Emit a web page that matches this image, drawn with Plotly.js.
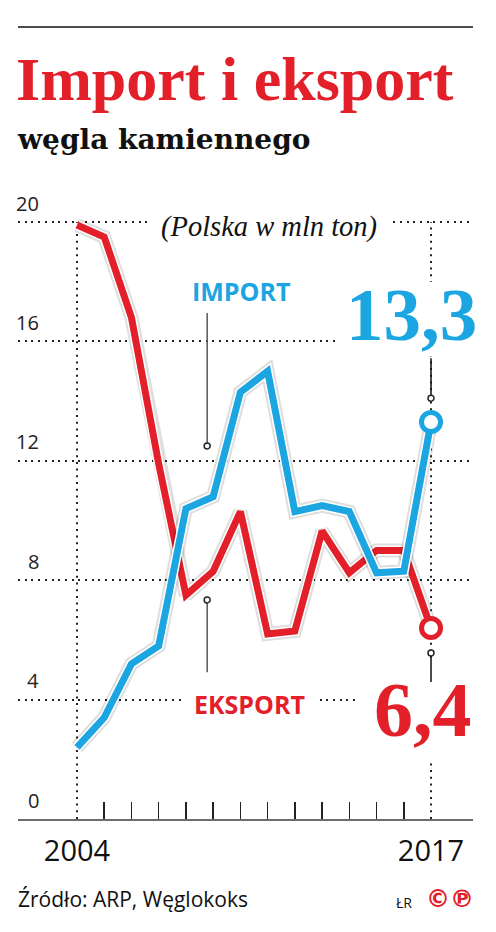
<!DOCTYPE html>
<html>
<head>
<meta charset="utf-8">
<script src="https://cdn.plot.ly/plotly-3.0.1.min.js"></script>
<style>
  html, body { margin: 0; padding: 0; background: #fff; }
  #chart { width: 496px; height: 932px; }
</style>
</head>
<body>
<div id="chart"></div>
<script>
// Import i eksport węgla kamiennego (Polska, mln ton)
var years = [2004, 2005, 2006, 2007, 2008, 2009, 2010, 2011, 2012, 2013, 2014, 2015, 2016, 2017];
var importValues = [2.4, 3.4, 5.2, 5.8, 10.4, 10.8, 14.3, 15.0, 10.3, 10.5, 10.3, 8.25, 8.3, 13.3];
var exportValues = [19.9, 19.5, 16.8, 11.9, 7.5, 8.3, 10.3, 6.2, 6.3, 9.65, 8.25, 9.0, 9.0, 6.4];
var yTicks = [0, 4, 8, 12, 16, 20];
var xLabels = ['2004', '2017'];

var RED = '#e3202a';
var BLUE = '#1ba5e1';
var SERIF = 'Liberation Serif';
var SANS = 'Open Sans';

var last = years.length - 1;
var firstYear = years[0];
var lastYear = years[last];

// linia z białą obwódką i cieniem
function seriesTraces(values, color) {
  return [
    { x: years, y: values, mode: 'lines', hoverinfo: 'skip',
      line: { color: 'rgba(0,0,0,0.13)', width: 14 } },
    { x: years, y: values, mode: 'lines', hoverinfo: 'skip',
      line: { color: '#ffffff', width: 10 } },
    { x: years, y: values, mode: 'lines',
      line: { color: color, width: 7 } },
    { x: [years[last]], y: [values[last]], mode: 'markers',
      marker: { size: 19, color: '#ffffff', line: { color: color, width: 5 } } }
  ];
}

var data = seriesTraces(exportValues, RED).concat(seriesTraces(importValues, BLUE));

function dotCircle(x, y) {
  return { type: 'circle', xref: 'x', yref: 'y', xsizemode: 'pixel', ysizemode: 'pixel',
    xanchor: x, yanchor: y, x0: -3, x1: 3, y0: -3, y1: 3, layer: 'between',
    fillcolor: '#fff', line: { color: '#222', width: 1.5 } };
}

// białe tło pod napisami, przerywa kropkowane linie
function blank(x0, x1, y0, y1) {
  return { type: 'rect', xref: 'x', yref: 'y', x0: x0, x1: x1, y0: y0, y1: y1,
    layer: 'between', fillcolor: '#fff', line: { width: 0 } };
}

var dotted = { color: '#222', width: 2, dash: '2px,4.7px' };

var shapes = [
  // linia nad tytułem
  { type: 'line', xref: 'paper', yref: 'paper', x0: 0, x1: 1, y0: 1.2394, y1: 1.2394,
    line: { color: '#111', width: 1.5 } },
  // pionowe kropkowane linie
  { type: 'line', xref: 'x', yref: 'y', x0: firstYear, x1: firstYear, y0: 0, y1: 20, layer: 'between', line: dotted },
  { type: 'line', xref: 'x', yref: 'y', x0: lastYear, x1: lastYear, y0: 0, y1: 20, layer: 'between', line: dotted },
  blank(2006.68, 2015.57, 19.2, 20.4),
  blank(2013.58, 2018.6, 15.5, 18.0),
  blank(2007.86, 2012.81, 3.45, 4.3),
  blank(2014.28, 2018.6, 1.9, 5.4),
  // odnośniki
  { type: 'line', xref: 'x', yref: 'y', x0: 2008.78, x1: 2008.78, y0: 16.95, y1: 12.6, layer: 'between', line: { color: '#555', width: 1.5 } },
  dotCircle(2008.78, 12.5),
  { type: 'line', xref: 'x', yref: 'y', x0: 2008.78, x1: 2008.78, y0: 7.25, y1: 4.92, layer: 'between', line: { color: '#555', width: 1.5 } },
  dotCircle(2008.78, 7.34),
  { type: 'line', xref: 'x', yref: 'y', x0: lastYear, x1: lastYear, y0: 15.44, y1: 14.2, layer: 'between', line: { color: '#111', width: 1.5 } },
  dotCircle(lastYear, 14.1),
  { type: 'line', xref: 'x', yref: 'y', x0: lastYear, x1: lastYear, y0: 5.5, y1: 4.59, layer: 'between', line: { color: '#111', width: 1.5 } },
  dotCircle(lastYear, 5.56)
];

var annotations = yTicks.map(function (v) {
  return { xref: 'paper', yref: 'y', x: 0.0505, y: v, xanchor: 'right', yanchor: 'middle',
    yshift: 19, text: String(v), showarrow: false,
    font: { family: SANS, size: 20, color: '#222' } };
});

annotations.push(
  { xref: 'paper', yref: 'paper', x: 0, y: 1.0626, xanchor: 'left', yanchor: 'middle',
    xshift: -3, text: 'węgla kamiennego', showarrow: false,
    font: { family: 'DejaVu Serif', size: 28, color: '#111', weight: 'bold' } },
  { xref: 'x', yref: 'y', x: 2011.05, y: 19.85, text: '(Polska w mln ton)', showarrow: false,
    font: { family: SERIF, size: 28.5, color: '#111', style: 'italic' } },
  { xref: 'x', yref: 'y', x: 2010.02, y: 17.69, text: 'IMPORT', showarrow: false,
    font: { family: SANS, size: 25, color: BLUE, weight: 'bold' } },
  { xref: 'x', yref: 'y', x: 2010.32, y: 3.85, text: 'EKSPORT', showarrow: false,
    font: { family: SANS, size: 25, color: RED, weight: 'bold' } },
  { xref: 'x', yref: 'y', x: 2016.27, y: 16.92, text: '13,3', showarrow: false,
    font: { family: SERIF, size: 75, color: BLUE, weight: 'bold' } },
  { xref: 'x', yref: 'y', x: 2016.71, y: 3.67, text: '6,4', showarrow: false,
    font: { family: SERIF, size: 78, color: RED, weight: 'bold' } },
  { xref: 'paper', yref: 'paper', x: 0, y: -0.1252, xanchor: 'left', yanchor: 'middle',
    xshift: -2, text: 'Źródło: ARP, Węglokoks', showarrow: false,
    font: { family: SANS, size: 21, color: '#111' } },
  { xref: 'paper', yref: 'paper', x: 0.848, y: -0.130, xanchor: 'center', yanchor: 'middle',
    text: 'ŁR', showarrow: false,
    font: { family: SANS, size: 14, color: '#111' } },
  { xref: 'paper', yref: 'paper', x: 0.95, y: -0.125, xanchor: 'center', yanchor: 'middle',
    text: '©℗', showarrow: false,
    font: { family: 'DejaVu Sans', size: 24, color: RED, weight: 'bold' } }
);

var layout = {
  width: 496,
  height: 932,
  margin: { l: 18, r: 23, t: 180, b: 113 },
  paper_bgcolor: '#fff',
  plot_bgcolor: '#fff',
  showlegend: false,
  title: {
    text: 'Import i eksport',
    xref: 'container', yref: 'container',
    x: 16 / 496, xanchor: 'left',
    y: 1 - 57 / 932, yanchor: 'top',
    font: { family: SERIF, size: 62, color: RED, weight: 'bold' }
  },
  xaxis: {
    range: [2001.833, 2018.542],
    showline: true, linecolor: '#6d6d6d', linewidth: 2,
    zeroline: false, showgrid: false,
    tickmode: 'array', tickvals: [firstYear, lastYear], ticktext: xLabels,
    ticks: '', ticklabelstandoff: 5,
    tickfont: { family: SANS, size: 29, color: '#111' },
    minor: { tickmode: 'array', tickvals: years.slice(1, -1), ticks: 'inside',
      ticklen: 17, tickwidth: 1.5, tickcolor: '#222', showgrid: false }
  },
  yaxis: {
    range: [0, 21.41],
    tickmode: 'array', tickvals: yTicks,
    showticklabels: false, ticks: '',
    showgrid: true, gridcolor: '#222', gridwidth: 2, griddash: '2px,4.7px',
    zeroline: false, showline: false
  },
  shapes: shapes,
  annotations: annotations
};

Plotly.newPlot('chart', data, layout, { displayModeBar: false, staticPlot: true });
</script>
</body>
</html>
